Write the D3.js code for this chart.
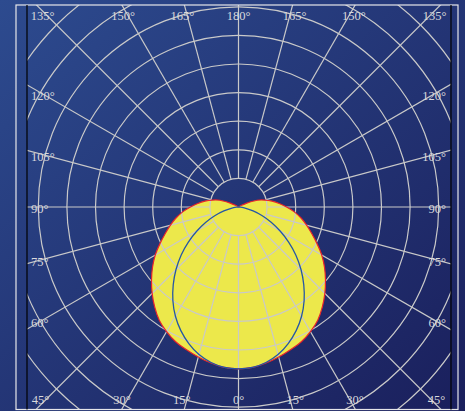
<!DOCTYPE html>
<html>
<head>
<meta charset="utf-8">
<script src="https://cdn.jsdelivr.net/npm/d3@7"></script>
<style>
  html, body { margin: 0; padding: 0; background: #243a7a; }
  svg { display: block; }
</style>
</head>
<body>
<svg id="chart"></svg>
<script>
// Polar light distribution: angle from nadir (0 = down, 180 = up)
const angles = [0, 5, 10, 15, 20, 25, 30, 35, 40, 45, 50, 55, 60, 65, 70, 75, 80, 85, 90,
                95, 100, 105, 110, 115, 120, 125, 130, 140, 150, 160, 170, 180];
// C0-C180 plane (yellow, symmetric)
const planeC0 = [566, 563, 554, 543, 531, 520, 503, 483, 456, 427, 397, 367, 336, 303, 273, 247, 222, 196, 168,
                 143, 119, 94, 69, 32, 10, 0, 0, 0, 0, 0, 0, 0];
// C90-C270 plane (blue outline)
const planeC90 = [566, 563, 552, 534, 508, 477, 441, 400, 355, 309, 262, 214, 168, 126, 87, 53, 26, 8, 0,
                  0, 0, 0, 0, 0, 0, 0, 0, 0, 0, 0, 0, 0];

const rings = [100, 200, 300, 400, 500, 600, 700, 800, 900];
const spokes = d3.range(0, 360, 15);
const topLabels = [135, 150, 165, 180, 165, 150, 135];
const bottomLabels = [45, 30, 15, 0, 15, 30, 45];
const sideLabels = [120, 105, 90, 75, 60];

const width = 465;
const height = 411;
const cx = 238.5, cy = 207;
const plot = { x0: 27, x1: 451, y0: 5, y1: 409.5 };

const svg = d3.select("#chart").attr("width", width).attr("height", height);

// background gradient
const defs = svg.append("defs");
const grad = defs.append("linearGradient").attr("id", "bg")
    .attr("x1", "0%").attr("y1", "0%").attr("x2", "100%").attr("y2", "100%");
grad.append("stop").attr("offset", "0%").attr("stop-color", "#2d4b8f");
grad.append("stop").attr("offset", "100%").attr("stop-color", "#1a1f5c");
defs.append("clipPath").attr("id", "plotClip")
  .append("rect")
    .attr("x", plot.x0).attr("y", plot.y0)
    .attr("width", plot.x1 - plot.x0).attr("height", plot.y1 - plot.y0);

svg.append("rect").attr("width", width).attr("height", height).attr("fill", "url(#bg)");

const r = d3.scaleLinear().domain([0, 100]).range([0, 28.6]);

// lineRadial angle: clockwise from up. Left half a = PI + theta, right half a = PI - theta
function closedPoints(values) {
  const pts = [];
  for (let i = angles.length - 1; i >= 0; i--) pts.push([Math.PI + angles[i] * Math.PI / 180, r(values[i])]);
  for (let i = 1; i < angles.length - 1; i++) pts.push([Math.PI - angles[i] * Math.PI / 180, r(values[i])]);
  return pts;
}

const radial = d3.lineRadial()
    .angle(d => d[0])
    .radius(d => d[1])
    .curve(d3.curveCatmullRomClosed.alpha(0.5));

const g = svg.append("g").attr("clip-path", "url(#plotClip)");
const inner = g.append("g").attr("transform", `translate(${cx},${cy})`);

// yellow fill
inner.append("path")
    .attr("d", radial(closedPoints(planeC0)))
    .attr("fill", "#ece84b")
    .attr("stroke", "none");

// grid
inner.selectAll("circle.ring")
  .data(rings)
  .enter().append("circle")
    .attr("class", "ring")
    .attr("r", d => r(d))
    .attr("fill", "none")
    .attr("stroke", "#c9c9c9")
    .attr("stroke-width", 1.2);

inner.selectAll("line.spoke")
  .data(spokes)
  .enter().append("line")
    .attr("class", "spoke")
    .attr("x1", d => r(rings[0]) * Math.sin(d * Math.PI / 180))
    .attr("y1", d => r(rings[0]) * Math.cos(d * Math.PI / 180))
    .attr("x2", d => r(1200) * Math.sin(d * Math.PI / 180))
    .attr("y2", d => r(1200) * Math.cos(d * Math.PI / 180))
    .attr("stroke", "#c9c9c9")
    .attr("stroke-width", 1.2);

// outlines
inner.append("path")
    .attr("d", radial(closedPoints(planeC0)))
    .attr("fill", "none")
    .attr("stroke", "#e8242c")
    .attr("stroke-width", 1.2);

inner.append("path")
    .attr("d", radial(closedPoints(planeC90)))
    .attr("fill", "none")
    .attr("stroke", "#2556a6")
    .attr("stroke-width", 1.3);

// frame
svg.append("rect")
    .attr("x", 16).attr("y", 5)
    .attr("width", 442).attr("height", plot.y1 - 5)
    .attr("fill", "none").attr("stroke", "#e6e6ea").attr("stroke-width", 1.2);
svg.selectAll("line.edge")
  .data([plot.x0, plot.x1])
  .enter().append("line")
    .attr("x1", d => d).attr("x2", d => d)
    .attr("y1", plot.y0).attr("y2", plot.y1)
    .attr("stroke", "#000").attr("stroke-width", 1.2);

// angle labels
const labelStyle = sel => sel
    .attr("fill", "#d9d9dc")
    .attr("font-family", "'Liberation Serif', 'DejaVu Serif', serif")
    .attr("font-size", 12.5);

const topY = 16, bottomY = 400;
function xAtY(angleFromDown, side, yRow) {
  const t = angleFromDown * Math.PI / 180;
  const dy = yRow - cy;
  const dx = dy / Math.cos(t) * Math.sin(t);
  return cx + side * Math.abs(dx);
}

svg.append("g").selectAll("text")
  .data(topLabels.map((d, i) => ({ a: d, side: i < 3 ? -1 : (i === 3 ? 0 : 1) })))
  .enter().append("text")
    .attr("x", d => d.side === 0 ? cx : xAtY(d.a, d.side, topY) + d.side * 5)
    .attr("y", topY)
    .attr("dy", "0.35em")
    .attr("text-anchor", "middle")
    .text(d => d.a + "°")
    .call(labelStyle);

svg.append("g").selectAll("text")
  .data(bottomLabels.map((d, i) => ({ a: d, side: i < 3 ? -1 : (i === 3 ? 0 : 1) })))
  .enter().append("text")
    .attr("x", d => d.side === 0 ? cx : xAtY(d.a, d.side, bottomY) + d.side * 5)
    .attr("y", bottomY)
    .attr("dy", "0.35em")
    .attr("text-anchor", "middle")
    .text(d => d.a + "°")
    .call(labelStyle);

const sideRows = [];
sideLabels.forEach(a => {
  const t = (a - 90) * Math.PI / 180;
  const y = cy - (cx - 42) * Math.tan(t) + 2;
  sideRows.push({ a, side: -1, y });
  sideRows.push({ a, side: 1, y });
});
svg.append("g").selectAll("text")
  .data(sideRows)
  .enter().append("text")
    .attr("x", d => d.side < 0 ? 31 : 446)
    .attr("y", d => d.y)
    .attr("dy", "0.35em")
    .attr("text-anchor", d => d.side < 0 ? "start" : "end")
    .text(d => d.a + "°")
    .call(labelStyle);
</script>
</body>
</html>
